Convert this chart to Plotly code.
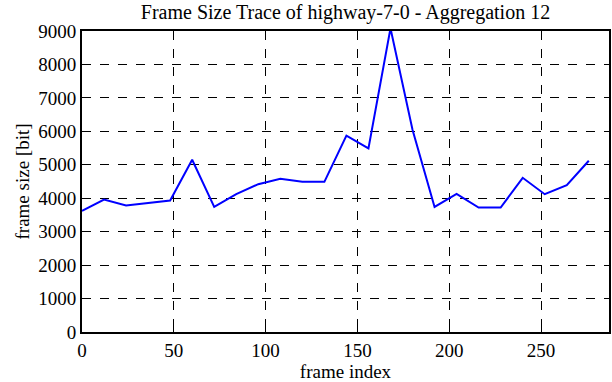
import plotly.graph_objects as go

frame_index = [0, 12, 24, 36, 48, 60, 72, 84, 96, 108, 120, 132, 144, 156, 168, 180,
               192, 204, 216, 228, 240, 252, 264, 276]
frame_size = [3620, 3960, 3780, 3850, 3930, 5150, 3740, 4120, 4420, 4580, 4490, 4490,
              5870, 5490, 9080, 6050, 3740, 4130, 3720, 3720, 4610, 4120, 4390, 5120]

x_ticks = [0, 50, 100, 150, 200, 250]
y_ticks = [0, 1000, 2000, 3000, 4000, 5000, 6000, 7000, 8000, 9000]

fig = go.Figure()
fig.add_trace(go.Scatter(x=frame_index, y=frame_size, mode="lines",
                         line=dict(color="#0000ff", width=2)))

font = dict(family="Liberation Serif", color="black", size=19)
axis_common = dict(showline=True, linecolor="black", linewidth=2, mirror="ticks",
                   ticks="inside", ticklen=5, tickwidth=1, tickcolor="black",
                   showgrid=True, gridcolor="black", griddash="dash", gridwidth=1,
                   zeroline=False, tickfont=font, automargin=False)

fig.update_layout(
    width=612, height=382,
    margin=dict(l=82, r=3, t=31, b=50, autoexpand=False),
    paper_bgcolor="white", plot_bgcolor="white",
    showlegend=False,
    font=font,
    title=dict(text="Frame Size Trace of highway-7-0 - Aggregation 12",
               x=0.5, xanchor="center", xref="paper", y=0.988, yanchor="top",
               pad=dict(t=0),
               font=dict(family="Liberation Serif", size=20, color="black")),
    xaxis=dict(range=[0, 287], tickvals=x_ticks,
               title=dict(text="frame index", font=font, standoff=2), **axis_common),
    yaxis=dict(range=[0, 9000], tickvals=y_ticks,
               title=dict(text="frame size [bit]", font=font, standoff=4), **axis_common),
)

fig.write_html("out.html",
               config=dict(displayModeBar=False),
               post_script="document.body.style.margin='0';document.body.style.overflow='hidden';")
